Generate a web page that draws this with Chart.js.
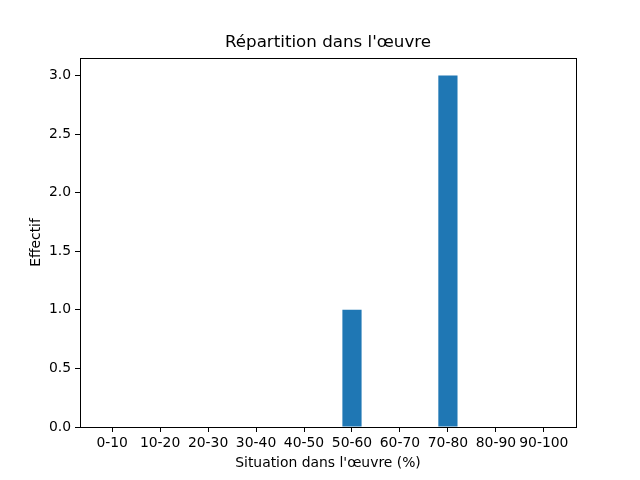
<!DOCTYPE html>
<html>
<head>
<meta charset="utf-8">
<script src="https://cdn.jsdelivr.net/npm/chart.js@4"></script>
<style>
  html, body { margin: 0; padding: 0; background: #fff; }
</style>
</head>
<body>
<canvas id="chart" width="640" height="480"></canvas>
<script>
"use strict";
// --- données -----------------------------------------------------------------
const TITRE = "Répartition dans l'œuvre";
const CATEGORIES = ["0-10", "10-20", "20-30", "30-40", "40-50", "50-60", "60-70", "70-80", "80-90", "90-100"];
const EFFECTIFS = [0, 0, 0, 0, 0, 1, 0, 3, 0, 0];
const Y_TICKS = [0, 0.5, 1.0, 1.5, 2.0, 2.5, 3.0];

const FONT = "'DejaVu Sans', sans-serif";
const BLUE = "#1f77b4";

// cadre noir autour de la zone de tracé + titre centré sur les axes (style matplotlib)
const frame = {
  id: "frame",
  afterDatasetsDraw(chart) {
    const { ctx, chartArea: a } = chart;
    ctx.save();
    ctx.strokeStyle = "#000";
    ctx.lineWidth = 1;
    ctx.strokeRect(Math.round(a.left) + 0.5, Math.round(a.top) + 0.5,
      Math.round(a.right - a.left), Math.round(a.bottom - a.top));
    ctx.fillStyle = "#000";
    ctx.font = "16.7px " + FONT;
    ctx.textAlign = "center";
    ctx.textBaseline = "middle";
    ctx.fillText(TITRE, (a.left + a.right) / 2, a.top - 15);
    ctx.restore();
  }
};

new Chart(document.getElementById("chart"), {
  type: "bar",
  data: {
    datasets: [{
      data: EFFECTIFS.map((v, i) => ({ x: i, y: v })),
      backgroundColor: BLUE,
      borderWidth: 0,
      inflateAmount: 0,
      barPercentage: 0.4,
      categoryPercentage: 1.0
    }]
  },
  options: {
    responsive: false,
    animation: false,
    devicePixelRatio: 1,
    layout: { padding: { left: 0, right: 64, top: 58, bottom: 0 } },
    plugins: {
      legend: { display: false },
      tooltip: { enabled: false },
      title: { display: false }
    },
    scales: {
      x: {
        type: "linear",
        min: -0.67,
        max: 9.67,
        offset: false,
        afterBuildTicks: (s) => { s.ticks = CATEGORIES.map((_, i) => ({ value: i })); },
        afterFit: (s) => { s.height = 53; },
        ticks: {
          color: "#000",
          font: { family: FONT, size: 13.9 },
          padding: 3,
          maxRotation: 0,
          autoSkip: false,
          callback: (v) => CATEGORIES[v]
        },
        grid: { offset: false, drawOnChartArea: false, drawTicks: true, tickLength: 5, color: "#000" },
        border: { color: "#000" },
        title: {
          display: true,
          text: "Situation dans l'œuvre (%)",
          color: "#000",
          font: { family: FONT, size: 13.9 },
          padding: { top: 2, bottom: 8 }
        }
      },
      y: {
        min: 0,
        max: 3.15,
        afterBuildTicks: (s) => { s.ticks = Y_TICKS.map((v) => ({ value: v })); },
        afterFit: (s) => { s.width = 80; },
        ticks: {
          color: "#000",
          font: { family: FONT, size: 13.9 },
          padding: 4,
          callback: (v) => v.toFixed(1)
        },
        grid: { drawOnChartArea: false, drawTicks: true, tickLength: 5, color: "#000" },
        border: { color: "#000" },
        title: {
          display: true,
          text: "Effectif",
          color: "#000",
          font: { family: FONT, size: 13.9 },
          padding: { top: 28, bottom: 0 }
        }
      }
    }
  },
  plugins: [frame]
});
</script>
</body>
</html>
